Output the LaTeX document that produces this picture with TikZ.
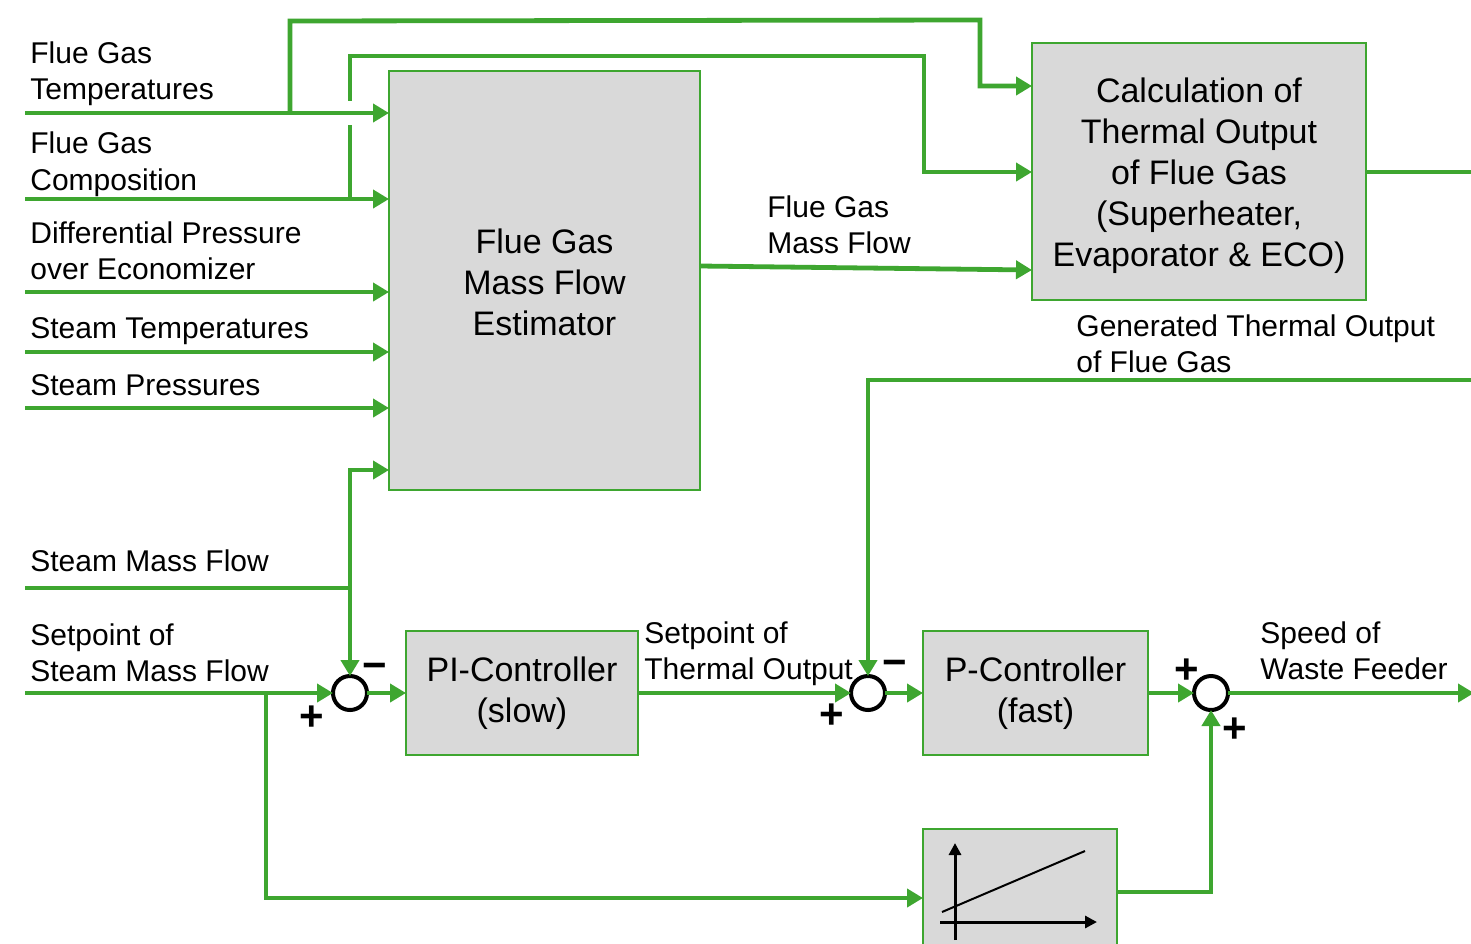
\documentclass[tikz,border=0pt]{standalone}
\usepackage{fontspec}
\setmainfont{Liberation Sans}
\usetikzlibrary{arrows.meta}
\definecolor{lg}{RGB}{62,166,48}
\definecolor{bg}{RGB}{217,217,217}
\begin{document}
\begin{tikzpicture}[x=0.5pt,y=-0.5pt,
  flow/.style={draw=lg, line width=2.4pt, -{Triangle[length=8pt,width=9pt]}},
  wire/.style={draw=lg, line width=2.4pt},
  blk/.style={draw=lg, line width=1pt, fill=bg, rectangle, inner sep=0pt, outer sep=0pt, align=center, font=\fontsize{17}{20.5}\selectfont},
  btxt/.style={inner sep=0pt, align=center, font=\fontsize{17}{20.5}\selectfont},
  sumj/.style={circle, draw=black, line width=2pt, minimum size=17pt, inner sep=0pt, outer sep=0pt},
  lbl/.style={anchor=base west, inner sep=0pt, font=\fontsize{15}{18}\selectfont},
  sgn/.style={inner sep=0pt, font=\fontsize{21}{21}\bfseries\selectfont},
  axis/.style={draw=black, line width=1.5pt, -{Triangle[length=6pt,width=6pt]}}
]
\useasboundingbox (0,0) rectangle (1471,943);
\clip (0,0) rectangle (1471,943);
\fill[white] (0,0) rectangle (1471,943);

% blocks
\node[blk, minimum width=155.5pt, minimum height=209.5pt] (est) at (544.5,280.5) {};
\node[btxt] (esttxt) at (544.5,282) {Flue Gas\\Mass Flow\\Estimator};
\node[blk, minimum width=167pt, minimum height=128.5pt] (calc) at (1199,171.5) {};
\node[btxt] (calctxt) at (1199,176) {Calculation of\\Thermal Output\\of Flue Gas\\(Superheater,\\Evaporator \& ECO)};
\node[blk, minimum width=116pt, minimum height=62pt] (PI) at (522,693) {PI-Controller\\(slow)};
\node[blk, minimum width=112.5pt, minimum height=62pt] (P) at (1035.5,693) {P-Controller\\(fast)};
\node[blk, minimum width=97pt, minimum height=70pt] (ramp) at (1020,899) {};

% summing junctions
\node[sumj] (j1) at (350,693) {};
\node[sumj] (j2) at (868,693) {};
\node[sumj] (j3) at (1211,693) {};

% coordinates
\coordinate (i1) at (25,113);
\coordinate (i2) at (25,199);
\coordinate (i3) at (25,292);
\coordinate (i4) at (25,352);
\coordinate (i5) at (25,408);
\coordinate (i6) at (25,588);
\coordinate (i7) at (25,693);
\coordinate (b1) at (290,113);
\coordinate (c1a) at (290,21);
\coordinate (c1b) at (980,20);
\coordinate (c1c) at (980,86);
\coordinate (b2) at (350,199);
\coordinate (c2a) at (350,56);
\coordinate (c2b) at (924,56);
\coordinate (c2c) at (924,172);
\coordinate (b6) at (350,588);
\coordinate (c6) at (350,470);
\coordinate (b7) at (266,693);
\coordinate (c7) at (266,898);
\coordinate (fb0) at (1471,380);
\coordinate (fb1) at (868,380);
\coordinate (o1) at (1471,172);
\coordinate (o2) at (1474,693);
\coordinate (r1) at (1211,892);
\coordinate (m1) at (0,266);
\coordinate (m2) at (0,270);

% routes to calculation block
\draw[flow] (b1) -- (c1a) -- (c1b) -- (c1c) -- (c1c -| calc.west);
\draw[flow] (b2) -- (c2a) -- (c2b) -- (c2c) -- (c2c -| calc.west);
\fill[white] (343,101) rectangle (357,125);

% inputs
\draw[flow] (i1) -- (i1 -| est.west);
\draw[flow] (i2) -- (i2 -| est.west);
\draw[flow] (i3) -- (i3 -| est.west);
\draw[flow] (i4) -- (i4 -| est.west);
\draw[flow] (i5) -- (i5 -| est.west);
\draw[wire] (i6) -- (b6);
\draw[flow, {Triangle[length=8pt,width=9pt]}-{Triangle[length=8pt,width=9pt]}] (c6 -| est.west) -- (c6) -- (j1.north);
\draw[flow] (i7) -- (j1.west);
\draw[flow] (b7) -- (c7) -- (c7 -| ramp.west);

% main loop
\draw[flow] (j1.east) -- (PI.west);
\draw[flow] (PI.east) -- (j2.west);
\draw[flow] (fb0) -- (fb1) -- (j2.north);
\draw[flow] (j2.east) -- (P.west);
\draw[flow] (P.east) -- (j3.west);
\draw[flow] (ramp.east |- r1) -- (r1) -- (j3.south);
\draw[flow] (j3.east) -- (o2);
\draw[flow] (est.east |- m1) -- (calc.west |- m2);
\draw[wire] (calc.east |- o1) -- (o1);

% ramp icon
\draw[axis] (955,940) -- (955,843);
\draw[axis] (940,922) -- (1097,922);
\draw[line width=1pt] (942,912) -- (1085,851);

% signs
\node[sgn] (s1p) at (312,718) {+};
\node[sgn] (s1m) at (375,671) {−};
\node[sgn] (s2p) at (832,716) {+};
\node[sgn] (s2m) at (895,668) {−};
\node[sgn] (s3p) at (1187,671) {+};
\node[sgn] (s3q) at (1235,730) {+};

% labels
\node[lbl] (t1a) at (30,63) {Flue Gas};
\node[lbl] (t1b) at (30,99) {Temperatures};
\node[lbl] (t2a) at (30,153) {Flue Gas};
\node[lbl] (t2b) at (30,190) {Composition};
\node[lbl] (t3a) at (30,243) {Differential Pressure};
\node[lbl] (t3b) at (30,279) {over Economizer};
\node[lbl] (t4) at (30,338) {Steam Temperatures};
\node[lbl] (t5) at (30,395) {Steam Pressures};
\node[lbl] (t6) at (30,571) {Steam Mass Flow};
\node[lbl] (t7a) at (30,645) {Setpoint of};
\node[lbl] (t7b) at (30,681) {Steam Mass Flow};
\node[lbl] (t8a) at (644,643) {Setpoint of};
\node[lbl] (t8b) at (644,679) {Thermal Output};
\node[lbl] (t9a) at (1260,643) {Speed of};
\node[lbl] (t9b) at (1260,679) {Waste Feeder};
\node[lbl] (t10a) at (767,217) {Flue Gas};
\node[lbl] (t10b) at (767,253) {Mass Flow};
\node[lbl] (t11a) at (1076,336) {Generated Thermal Output};
\node[lbl] (t11b) at (1076,372) {of Flue Gas};
\end{tikzpicture}
\end{document}
